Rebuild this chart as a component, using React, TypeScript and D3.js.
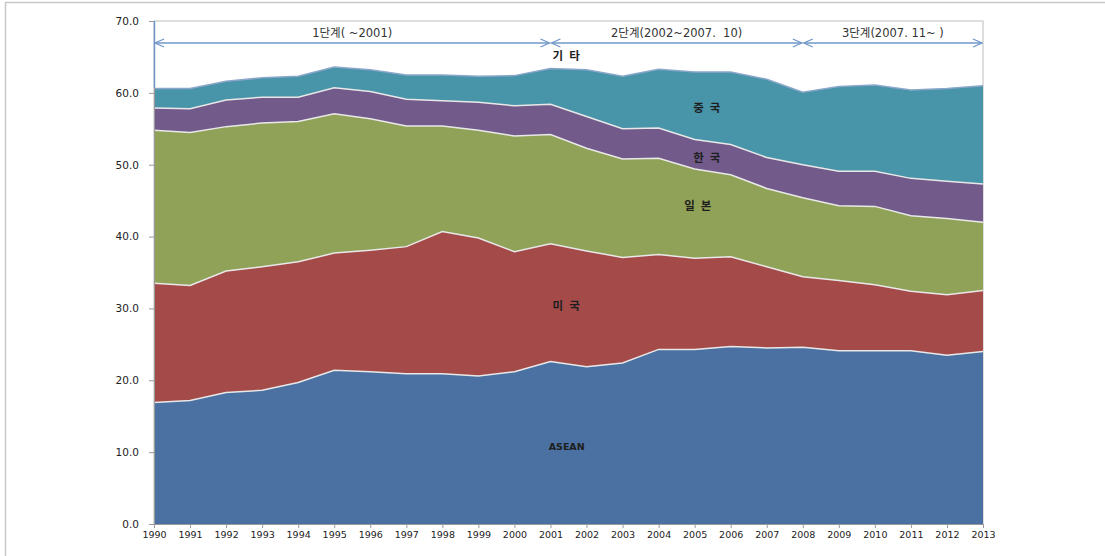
import React, { useEffect, useRef } from "react";
import * as d3 from "d3";

const years = [
  1990, 1991, 1992, 1993, 1994, 1995, 1996, 1997, 1998, 1999, 2000, 2001,
  2002, 2003, 2004, 2005, 2006, 2007, 2008, 2009, 2010, 2011, 2012, 2013,
];

// shares (%) by partner, stacked bottom to top
const asean = [
  16.9, 17.2, 18.3, 18.6, 19.7, 21.4, 21.2, 20.9, 20.9, 20.6, 21.2, 22.6,
  21.9, 22.4, 24.3, 24.3, 24.7, 24.5, 24.6, 24.1, 24.1, 24.1, 23.5, 24.0,
];
const usa = [
  16.6, 16.0, 16.9, 17.2, 16.8, 16.3, 16.9, 17.7, 19.8, 19.2, 16.7, 16.4,
  16.1, 14.7, 13.2, 12.7, 12.5, 11.3, 9.8, 9.8, 9.2, 8.3, 8.4, 8.5,
];
const japan = [
  21.3, 21.3, 20.1, 20.0, 19.5, 19.4, 18.3, 16.8, 14.7, 15.0, 16.1, 15.2,
  14.3, 13.7, 13.4, 12.4, 11.4, 10.9, 11.0, 10.4, 10.9, 10.5, 10.6, 9.5,
];
const korea = [
  3.1, 3.3, 3.7, 3.6, 3.4, 3.6, 3.8, 3.7, 3.5, 3.9, 4.2, 4.2,
  4.4, 4.2, 4.2, 4.1, 4.2, 4.3, 4.6, 4.8, 4.9, 5.2, 5.2, 5.3,
];
const china = [
  2.7, 2.8, 2.6, 2.7, 2.9, 2.9, 3.0, 3.4, 3.6, 3.6, 4.2, 5.0,
  6.5, 7.3, 8.2, 9.4, 10.1, 10.9, 10.1, 11.8, 12.0, 12.3, 12.9, 13.7,
];

const seriesNames = ["ASEAN", "미 국", "일 본", "한 국", "중 국"];
const seriesValues = [asean, usa, japan, korea, china];
const colors = ["#4a71a1", "#a44b4a", "#90a257", "#725b8b", "#4894a9"];

const yTicks = [0, 10, 20, 30, 40, 50, 60, 70];

const phases = [
  { label: "1단계( ~2001)", from: 1990, to: 2001 },
  { label: "2단계(2002~2007.  10)", from: 2001, to: 2008 },
  { label: "3단계(2007. 11~ )", from: 2008, to: 2013 },
];

// area labels: [text, year position, value]
const areaLabels: [string, number, number][] = [
  ["기 타", 2001.45, 64.6],
  ["중 국", 2005.35, 57.3],
  ["한 국", 2005.35, 50.4],
  ["일 본", 2005.1, 43.7],
  ["미 국", 2001.45, 29.8],
  ["ASEAN", 2001.45, 10.3],
];

const App = () => {
  const ref = useRef<SVGSVGElement>(null);

  useEffect(() => {
    const svg = d3.select(ref.current);
    svg.selectAll("*").remove();

    const width = 1105;
    const height = 556;
    const margin = { top: 21, right: 122, bottom: 32, left: 154 };

    // chart frame
    svg
      .append("path")
      .attr("d", `M5.5,${height} V2.5 H${width}`)
      .attr("fill", "none")
      .attr("stroke", "#c8c8c8")
      .attr("stroke-width", 1.5);

    const x = d3
      .scaleLinear()
      .domain([1990, 2013])
      .range([margin.left, width - margin.right]);
    const y = d3
      .scaleLinear()
      .domain([0, 70])
      .range([height - margin.bottom, margin.top]);

    // plot area border
    svg
      .append("rect")
      .attr("x", x(1990))
      .attr("y", y(70))
      .attr("width", x(2013) - x(1990))
      .attr("height", y(0) - y(70))
      .attr("fill", "none")
      .attr("stroke", "#bdbdbd");

    const table = years.map((yr, i) => {
      const row: any = { year: yr };
      seriesNames.forEach((n, k) => (row[n] = seriesValues[k][i]));
      return row;
    });

    const stack = d3.stack().keys(seriesNames);
    const layers = stack(table);

    const area = d3
      .area<any>()
      .x((d) => x(d.data.year))
      .y0((d) => y(d[0]))
      .y1((d) => y(d[1]));

    const line = d3
      .line<any>()
      .x((d) => x(d.data.year))
      .y((d) => y(d[1]));

    svg
      .selectAll(".layer")
      .data(layers)
      .enter()
      .append("path")
      .attr("class", "layer")
      .attr("d", area)
      .attr("fill", (d, i) => colors[i]);

    svg
      .selectAll(".edge")
      .data(layers)
      .enter()
      .append("path")
      .attr("class", "edge")
      .attr("d", line)
      .attr("fill", "none")
      .attr("stroke", (d, i) => (i === layers.length - 1 ? "#8aa7c9" : "#e8e8e8"))
      .attr("stroke-width", 1.5);

    // axes
    const yAxis = svg
      .append("g")
      .attr("transform", `translate(${x(1990)},0)`)
      .call(
        d3
          .axisLeft(y)
          .tickValues(yTicks)
          .tickSize(5)
          .tickFormat(d3.format(".1f"))
      );
    yAxis.select(".domain").attr("stroke", "#9a9a9a");
    yAxis.selectAll(".tick line").attr("stroke", "#9a9a9a");
    yAxis
      .selectAll("text")
      .attr("x", -15)
      .attr("font-family", "DejaVu Sans, sans-serif")
      .attr("font-size", 10.5)
      .attr("fill", "#222");

    const xAxis = svg
      .append("g")
      .attr("transform", `translate(0,${y(0)})`)
      .call(
        d3
          .axisBottom(x)
          .tickValues(years)
          .tickSize(4)
          .tickFormat(d3.format("d"))
      );
    xAxis.select(".domain").attr("stroke", "#9a9a9a");
    xAxis.selectAll(".tick line").attr("stroke", "#9a9a9a");
    xAxis
      .selectAll("text")
      .attr("y", 7)
      .attr("font-family", "DejaVu Sans, sans-serif")
      .attr("font-size", 9.5)
      .attr("fill", "#222");

    // phase arrows
    const arrowY = 43;
    const arrowColor = "#7197c9";
    const g = svg.append("g");
    g.append("line")
      .attr("x1", x(1990) + 0.5)
      .attr("x2", x(1990) + 0.5)
      .attr("y1", y(70))
      .attr("y2", y(60.7))
      .attr("stroke", arrowColor)
      .attr("stroke-width", 1.5);
    phases.forEach((p) => {
      const x1 = x(p.from) + 1;
      const x2 = x(p.to) - 1;
      g.append("line")
        .attr("x1", x1)
        .attr("x2", x2)
        .attr("y1", arrowY)
        .attr("y2", arrowY)
        .attr("stroke", arrowColor)
        .attr("stroke-width", 1.3);
      g.append("path")
        .attr("d", `M${x1 + 9},${arrowY - 4} L${x1},${arrowY} L${x1 + 9},${arrowY + 4}`)
        .attr("fill", "none")
        .attr("stroke", arrowColor)
        .attr("stroke-width", 1.3);
      g.append("path")
        .attr("d", `M${x2 - 9},${arrowY - 4} L${x2},${arrowY} L${x2 - 9},${arrowY + 4}`)
        .attr("fill", "none")
        .attr("stroke", arrowColor)
        .attr("stroke-width", 1.3);
      g.append("text")
        .attr("x", (x(p.from) + x(p.to)) / 2)
        .attr("y", 37)
        .attr("text-anchor", "middle")
        .attr("font-family", "DejaVu Sans, Noto Sans CJK KR, sans-serif")
        .attr("font-size", 11.5)
        .attr("fill", "#333")
        .attr("xml:space", "preserve")
        .style("white-space", "pre")
        .text(p.label);
    });

    // area labels
    svg
      .selectAll(".area-label")
      .data(areaLabels)
      .enter()
      .append("text")
      .attr("class", "area-label")
      .attr("x", (d) => x(d[1]))
      .attr("y", (d) => y(d[2]))
      .attr("text-anchor", "middle")
      .attr("font-family", "DejaVu Sans, Noto Sans CJK KR, sans-serif")
      .attr("font-weight", "bold")
      .attr("font-size", (d) => (d[0] === "ASEAN" ? 9.5 : 11.5))
      .attr("letter-spacing", (d) => (d[0] === "ASEAN" ? 0 : 1))
      .attr("fill", "#1e1e1e")
      .text((d) => d[0]);
  }, []);

  return (
    <svg
      ref={ref}
      width={1105}
      height={556}
      style={{ position: "absolute", left: 0, top: 0, background: "#fff" }}
    />
  );
};

export default App;
